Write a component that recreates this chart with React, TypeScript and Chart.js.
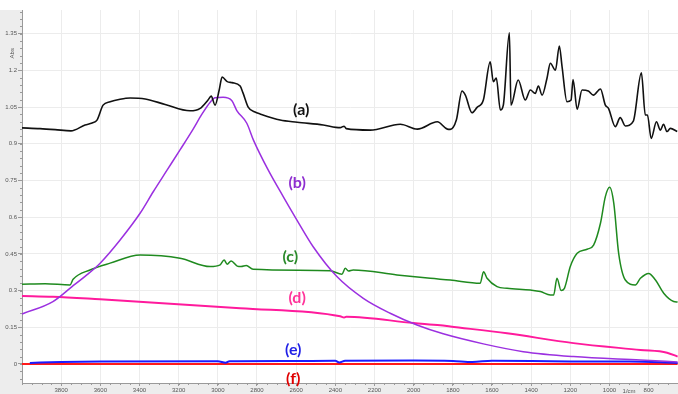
import React, { useEffect, useRef } from "react";
import { Chart, registerables } from "chart.js";

Chart.register(...registerables);

// ---- data (wavenumber in 1/cm, absorbance) ----
const aWave = [4000, 3908, 3831, 3750, 3678, 3642, 3617, 3586, 3550, 3499, 3448, 3371, 3269, 3142, 3090, 3050, 3034, 3014, 2993, 2978, 2952, 2927, 2886, 2871, 2845, 2810, 2784, 2682, 2595, 2462, 2375, 2355, 2344, 2222, 2068, 1981, 1879, 1828, 1813, 1782, 1753, 1736, 1702, 1676, 1644, 1609, 1593, 1578, 1557, 1542, 1511, 1503, 1466, 1430, 1404, 1379, 1363, 1344, 1319, 1302, 1276, 1256, 1242, 1217, 1196, 1186, 1165, 1140, 1108, 1082, 1046, 1021, 1005, 970, 945, 919, 878, 837, 817, 806, 787, 760, 740, 724, 706, 689, 654];
const aAbs = [0.965, 0.962, 0.958, 0.953, 0.977, 0.985, 0.997, 1.058, 1.072, 1.082, 1.087, 1.083, 1.061, 1.035, 1.045, 1.079, 1.095, 1.058, 1.12, 1.173, 1.154, 1.15, 1.136, 1.107, 1.05, 1.03, 1.022, 0.997, 0.988, 0.977, 0.966, 0.972, 0.962, 0.956, 0.98, 0.96, 0.99, 0.96, 0.959, 0.997, 1.116, 1.099, 1.027, 1.049, 1.079, 1.235, 1.154, 1.169, 1.038, 1.058, 1.354, 1.058, 1.161, 1.079, 1.12, 1.106, 1.136, 1.099, 1.168, 1.229, 1.201, 1.3, 1.215, 1.072, 1.079, 1.163, 1.041, 1.12, 1.116, 1.099, 1.124, 1.058, 1.045, 0.97, 1.007, 0.973, 0.993, 1.19, 1.018, 1.018, 0.922, 0.99, 0.956, 0.98, 0.95, 0.963, 0.95];

const bWave = [4000, 3842, 3746, 3669, 3601, 3499, 3397, 3329, 3261, 3193, 3126, 3082, 3039, 3014, 2973, 2928, 2903, 2852, 2818, 2743, 2666, 2596, 2513, 2392, 2257, 2120, 1983, 1849, 1644, 1440, 1184, 842, 652];
const bAbs = [0.204, 0.255, 0.315, 0.364, 0.412, 0.507, 0.616, 0.705, 0.79, 0.875, 0.96, 1.02, 1.07, 1.088, 1.09, 1.076, 1.036, 0.984, 0.915, 0.793, 0.684, 0.588, 0.479, 0.357, 0.268, 0.207, 0.159, 0.123, 0.082, 0.05, 0.03, 0.016, 0.008];

const cWave = [4000, 3882, 3755, 3739, 3653, 3550, 3397, 3193, 3039, 2988, 2968, 2952, 2932, 2901, 2881, 2855, 2820, 2426, 2366, 2349, 2333, 2309, 2085, 1915, 1813, 1660, 1643, 1625, 1574, 1523, 1404, 1353, 1302, 1285, 1268, 1247, 1230, 1200, 1165, 1114, 1081, 1046, 1021, 999, 978, 953, 919, 868, 842, 800, 765, 723, 672, 652];
const cAbs = [0.326, 0.328, 0.323, 0.346, 0.384, 0.412, 0.445, 0.432, 0.398, 0.405, 0.425, 0.408, 0.421, 0.4, 0.398, 0.402, 0.387, 0.381, 0.367, 0.391, 0.38, 0.384, 0.364, 0.35, 0.343, 0.33, 0.377, 0.35, 0.316, 0.309, 0.302, 0.296, 0.282, 0.282, 0.35, 0.3, 0.309, 0.398, 0.452, 0.469, 0.486, 0.575, 0.684, 0.722, 0.657, 0.452, 0.343, 0.323, 0.35, 0.37, 0.343, 0.289, 0.255, 0.253];

const dWave = [4000, 3842, 3601, 2886, 2375, 2355, 2344, 2000, 1864, 1813, 1523, 1184, 842, 706, 652];
const dAbs = [0.278, 0.275, 0.264, 0.228, 0.195, 0.19, 0.193, 0.167, 0.158, 0.153, 0.125, 0.085, 0.057, 0.046, 0.03];

const eWave = [3960, 3800, 3600, 3000, 2960, 2940, 2900, 2600, 2400, 2380, 2350, 2000, 1800, 1700, 1600, 1200, 900, 652];
const eAbs = [0.004, 0.008, 0.01, 0.011, 0.005, 0.011, 0.011, 0.012, 0.013, 0.006, 0.013, 0.014, 0.012, 0.008, 0.013, 0.01, 0.01, 0.004];

const fWave = [4000, 652];
const fAbs = [0, 0];

const xTicks = [800, 1000, 1200, 1400, 1600, 1800, 2000, 2200, 2400, 2600, 2800, 3000, 3200, 3400, 3600, 3800];
const yTicks = [0, 0.15, 0.3, 0.45, 0.6, 0.75, 0.9, 1.05, 1.2, 1.35];
const yTickLabels = ["0", "0.15", "0.3", "0.45", "0.6", "0.75", "0.9", "1.05", "1.2", "1.35"];

const seriesLabels = ["(a)", "(b)", "(c)", "(d)", "(e)", "(f)"];
const seriesColors = ["#111111", "#9b30e0", "#1f8a1f", "#ff1a9c", "#1a1aff", "#ff1a1a"];
const labelColors = ["#111111", "#8e2ed0", "#2b8a2b", "#ff3399", "#1f1fe6", "#e00000"];
const labelWave = [2574, 2595, 2630, 2595, 2615, 2615];
const labelAbs = [1.038, 0.74, 0.437, 0.27, 0.057, -0.061];

const toPts = (w: number[], v: number[]) => w.map((x, i) => ({ x, y: v[i] }));

export default function App() {
  const ref = useRef<HTMLCanvasElement | null>(null);
  useEffect(() => {
    if (!ref.current) return;
    const series = [
      toPts(aWave, aAbs),
      toPts(bWave, bAbs),
      toPts(cWave, cAbs),
      toPts(dWave, dAbs),
      toPts(eWave, eAbs),
      toPts(fWave, fAbs),
    ];
    const widths = [1.6, 1.5, 1.5, 2, 2, 2];

    const decor = {
      id: "decor",
      beforeDraw(chart: any) {
        const { ctx, chartArea: ca, width, height } = chart;
        ctx.save();
        ctx.fillStyle = "#ffffff";
        ctx.fillRect(0, 0, width, height);
        ctx.fillStyle = "#ededed";
        ctx.fillRect(0, ca.top, ca.left, height - ca.top);
        ctx.fillRect(0, ca.bottom, width, height - ca.bottom);
        ctx.restore();
      },
      afterDraw(chart: any) {
        const { ctx, chartArea: ca, scales } = chart;
        const xs = scales.x;
        const ys = scales.y;
        ctx.save();
        ctx.strokeStyle = "#9a9a9a";
        ctx.lineWidth = 1;
        ctx.beginPath();
        for (let v = 700; v <= 4000; v += 50) {
          const px = Math.round(xs.getPixelForValue(v)) + 0.5;
          if (px < ca.left || px > ca.right) continue;
          ctx.moveTo(px, ca.bottom);
          ctx.lineTo(px, ca.bottom + 2);
        }
        for (let k = -2; k <= 48; k++) {
          const v = k * 0.03;
          const py = Math.round(ys.getPixelForValue(v)) + 0.5;
          if (py < ca.top || py > ca.bottom) continue;
          ctx.moveTo(ca.left, py);
          ctx.lineTo(ca.left - 2, py);
        }
        ctx.stroke();
        // axis titles
        ctx.fillStyle = "#555";
        ctx.font = "6px 'Liberation Sans'";
        ctx.textAlign = "center";
        ctx.textBaseline = "middle";
        ctx.fillText("1/cm", xs.getPixelForValue(900), ca.bottom + 8);
        ctx.translate(12, ys.getPixelForValue(1.27));
        ctx.rotate(-Math.PI / 2);
        ctx.fillText("Abs", 0, 0);
        ctx.restore();
        // series labels
        ctx.save();
        ctx.font = "bold 16px Lato";
        ctx.textAlign = "center";
        ctx.textBaseline = "middle";
        seriesLabels.forEach((t, i) => {
          ctx.fillStyle = labelColors[i];
          ctx.fillText(t, xs.getPixelForValue(labelWave[i]), ys.getPixelForValue(labelAbs[i]));
        });
        ctx.restore();
      },
    };

    const chart = new Chart(ref.current, {
      type: "line",
      data: {
        datasets: series.map((d, i) => ({
          label: seriesLabels[i],
          data: d,
          borderColor: seriesColors[i],
          borderWidth: widths[i],
          pointRadius: 0,
          cubicInterpolationMode: "monotone",
          fill: false,
        })),
      },
      options: {
        animation: false,
        responsive: false,
        devicePixelRatio: 1,
        layout: { padding: { top: 10, right: 0, left: 0, bottom: 0 } },
        plugins: { legend: { display: false }, tooltip: { enabled: false } },
        scales: {
          x: {
            type: "linear",
            reverse: true,
            min: 650,
            max: 4000,
            afterBuildTicks: (s: any) => {
              s.ticks = xTicks.map((v) => ({ value: v }));
            },
            afterFit: (s: any) => {
              s.height = 11;
            },
            grid: { color: "#ececec", tickLength: 3, tickColor: "#9a9a9a" },
            border: { color: "#9a9a9a" },
            ticks: {
              font: { size: 6, family: "Liberation Sans" },
              color: "#555",
              padding: 1,
              maxRotation: 0,
              autoSkip: false,
              callback: (v: any) => String(Math.round(Number(v))),
            },
          },
          y: {
            type: "linear",
            min: -0.078,
            max: 1.447,
            afterBuildTicks: (s: any) => {
              s.ticks = yTicks.map((v) => ({ value: v }));
            },
            afterFit: (s: any) => {
              s.width = 22;
            },
            grid: { color: "#ececec", tickLength: 4, tickColor: "#9a9a9a" },
            border: { color: "#9a9a9a" },
            ticks: {
              font: { size: 6, family: "Liberation Sans" },
              color: "#555",
              padding: 1,
              autoSkip: false,
              callback: (v: any) => {
                const i = yTicks.findIndex((t) => Math.abs(t - Number(v)) < 1e-6);
                return i >= 0 ? yTickLabels[i] : "";
              },
            },
          },
        },
      },
      plugins: [decor],
    } as any);
    return () => chart.destroy();
  }, []);

  return (
    <div style={{ position: "fixed", left: 0, top: 0, width: 678, height: 394 }}>
      <canvas ref={ref} width={678} height={394} style={{ width: 678, height: 394, display: "block" }} />
    </div>
  );
}
